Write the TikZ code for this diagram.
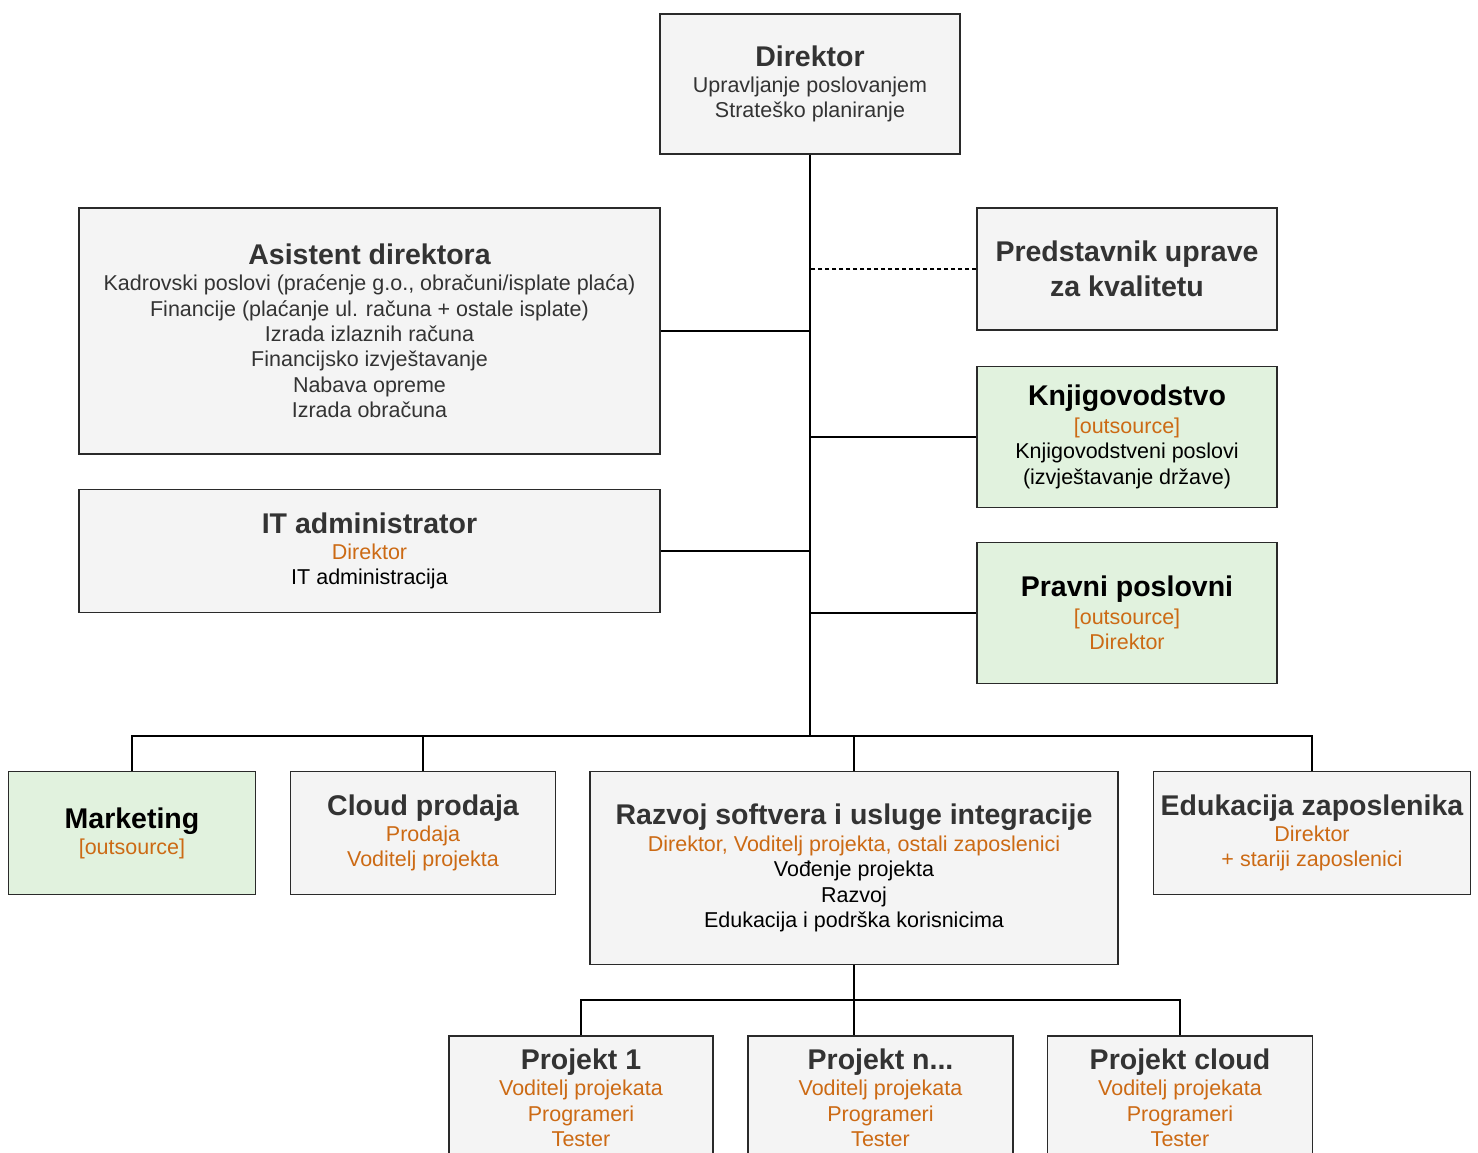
\documentclass[tikz,border=0pt]{standalone}
\usepackage{fontspec}
\setmainfont{Liberation Sans}

\definecolor{boxgray}{HTML}{F4F4F4}
\definecolor{boxgreen}{HTML}{E1F2DE}
\definecolor{darktext}{HTML}{333333}
\definecolor{orgtext}{HTML}{CC6A14}
\definecolor{edge}{HTML}{2A2A2A}

\newcommand{\ttl}[1]{{\fontsize{28.5}{34}\selectfont\bfseries #1}}
\newcommand{\who}[1]{\textcolor{orgtext}{#1}}

\tikzset{
  unit/.style={draw=edge, line width=1.5pt, fill=boxgray, text=darktext, align=center,
    inner sep=0pt, font=\fontsize{21.5}{25.4}\selectfont},
  outunit/.style={unit, fill=boxgreen, text=black},
  link/.style={line width=1.6pt, black},
}

\begin{document}
\begin{tikzpicture}[x=1pt,y=-1pt]
\clip (0,0) rectangle (1478,1153);
\node[unit, minimum width=300pt, minimum height=140pt] (dir) at (810,84)
  {\ttl{Direktor}\\[0.4pt] Upravljanje poslovanjem\\ Strateško planiranje};
\node[unit, minimum width=581pt, minimum height=246pt] (asis) at (369.5,331)
  {\ttl{Asistent direktora}\\[0.4pt] Kadrovski poslovi (praćenje g.o., obračuni/isplate plaća)\\
   Financije (plaćanje ul. računa + ostale isplate)\\ Izrada izlaznih računa\\
   Financijsko izvještavanje\\ Nabava opreme\\ Izrada obračuna};
\node[unit, minimum width=300pt, minimum height=122pt,
  font=\fontsize{28.5}{35}\selectfont\bfseries] (pred) at (1127,269)
  {Predstavnik uprave\\ za kvalitetu};
\node[outunit, minimum width=300pt, minimum height=141pt] (knjig) at (1127,437)
  {\ttl{Knjigovodstvo}\\[2pt] \who{[outsource]}\\ Knjigovodstveni poslovi\\ (izvještavanje države)};
\node[unit, minimum width=581pt, minimum height=123pt] (itadm) at (369.5,551)
  {\ttl{IT administrator}\\[0.4pt] \who{Direktor}\\ \textcolor{black}{IT administracija}};
\node[outunit, minimum width=300pt, minimum height=141pt] (pravni) at (1127,613)
  {\ttl{Pravni poslovni}\\[2pt] \who{[outsource]}\\ \who{Direktor}};

\node[outunit, minimum width=247pt, minimum height=123pt] (mark) at (132,833)
  {\ttl{Marketing}\\[0.4pt] \who{[outsource]}};
\node[unit, minimum width=265pt, minimum height=123pt] (cloud) at (423,833)
  {\ttl{Cloud prodaja}\\[0.4pt] \who{Prodaja}\\ \who{Voditelj projekta}};
\node[unit, minimum width=528pt, minimum height=193pt] (razvoj) at (854,868)
  {\ttl{Razvoj softvera i usluge integracije}\\[1pt]
   \who{Direktor, Voditelj projekta, ostali zaposlenici}\\
   \textcolor{black}{Vođenje projekta}\\ \textcolor{black}{Razvoj}\\
   \textcolor{black}{Edukacija i podrška korisnicima}};
\node[unit, minimum width=317pt, minimum height=123pt] (eduk) at (1312,833)
  {\ttl{Edukacija zaposlenika}\\[0.4pt] \who{Direktor}\\ \who{+ stariji zaposlenici}};

\node[unit, minimum width=264pt, minimum height=124pt] (p1) at (581,1098)
  {\ttl{Projekt 1}\\[0.4pt] \who{Voditelj projekata}\\ \who{Programeri}\\ \who{Tester}};
\node[unit, minimum width=265pt, minimum height=124pt] (pn) at (880.5,1098)
  {\ttl{Projekt n...}\\[0.4pt] \who{Voditelj projekata}\\ \who{Programeri}\\ \who{Tester}};
\node[unit, minimum width=265pt, minimum height=124pt] (pcloud) at (1180,1098)
  {\ttl{Projekt cloud}\\[0.4pt] \who{Voditelj projekata}\\ \who{Programeri}\\ \who{Tester}};

\coordinate (hub) at (810,736);
\coordinate (hub2) at (854,1000);

\draw[link] (dir.south) -- (hub);
\draw[link] (asis.east) -- (asis.east -| dir.south);
\draw[link, dash pattern=on 4pt off 3pt] (pred.west) -- (pred.west -| dir.south);
\draw[link] (knjig.west) -- (knjig.west -| dir.south);
\draw[link] (itadm.east) -- (itadm.east -| dir.south);
\draw[link] (pravni.west) -- (pravni.west -| dir.south);
\draw[link] (hub) -| (mark.north);
\draw[link] (hub) -| (cloud.north);
\draw[link] (hub) -| (razvoj.north);
\draw[link] (hub) -| (eduk.north);
\draw[link] (razvoj.south) -- (razvoj.south |- pn.north);
\draw[link] (p1.north) |- (hub2) -| (pcloud.north);
\end{tikzpicture}
\end{document}
